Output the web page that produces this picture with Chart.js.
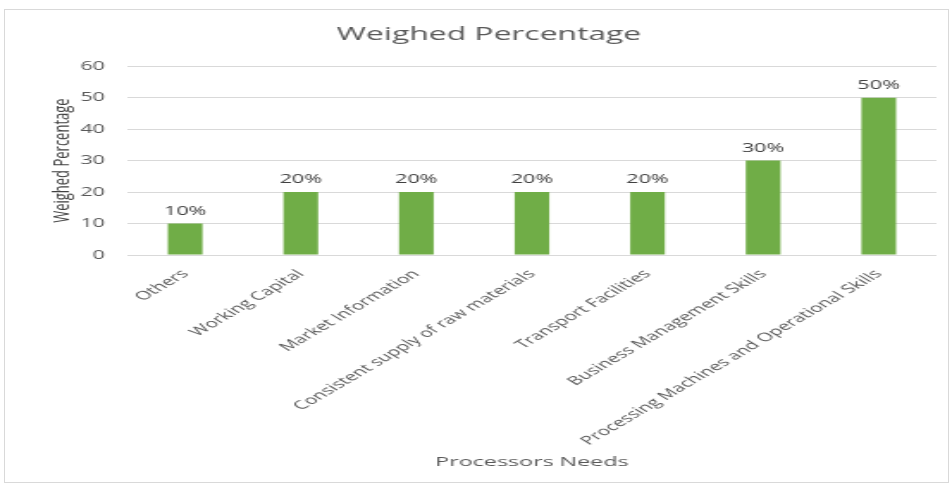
<!DOCTYPE html>
<html>
<head>
<meta charset="utf-8">
<script src="https://cdn.jsdelivr.net/npm/chart.js@4/dist/chart.umd.min.js"></script>
<style>
  html, body { margin: 0; padding: 0; background: #ffffff; overflow: hidden; }
  #page { position: relative; width: 952px; height: 484px; }
  #stretch { position: absolute; left: 0; top: 0; width: 553px; height: 484px; transform: scaleX(1.7215); transform-origin: 0 0; }
  #frame { position: absolute; left: 4px; top: 9px; width: 943px; height: 472px; border: 1px solid #d9d9d9; pointer-events: none; }
</style>
</head>
<body>
<div id="page">
  <div id="stretch"><canvas id="c" width="553" height="484"></canvas></div>
  <div id="frame"></div>
</div>
<script>
const categories = [
  "Others",
  "Working Capital",
  "Market Information",
  "Consistent supply of raw materials",
  "Transport Facilities",
  "Business Management Skills",
  "Processing Machines and Operational Skills"
];
const weighedPercentage = [10, 20, 20, 20, 20, 30, 50];
const dataLabels = ["10%", "20%", "20%", "20%", "20%", "30%", "50%"];
const yTicks = [0, 10, 20, 30, 40, 50, 60];

const textGray = "#595959";
const font = "'Open Sans', 'DejaVu Sans', sans-serif";

const valueLabelPlugin = {
  id: "valueLabels",
  afterDatasetsDraw(chart) {
    const ctx = chart.ctx;
    const meta = chart.getDatasetMeta(0);
    ctx.save();
    ctx.font = "12.5px " + font;
    ctx.fillStyle = "#404040";
    ctx.textAlign = "center";
    ctx.textBaseline = "bottom";
    meta.data.forEach((bar, i) => {
      ctx.fillText(dataLabels[i], bar.x, bar.y - 6);
    });
    ctx.restore();
  }
};

new Chart(document.getElementById("c"), {
  type: "bar",
  data: {
    labels: categories,
    datasets: [{
      label: "Weighed Percentage",
      data: weighedPercentage,
      backgroundColor: "#70AD47",
      borderWidth: 0,
      categoryPercentage: 1.0,
      barPercentage: 0.30
    }]
  },
  options: {
    responsive: false,
    animation: false,
    devicePixelRatio: 1,
    layout: { padding: { left: 24, right: 9, top: 0, bottom: 10 } },
    plugins: {
      legend: { display: false },
      tooltip: { enabled: false },
      title: {
        display: true,
        text: "Weighed Percentage",
        color: textGray,
        font: { family: font, size: 18.5, weight: "normal" },
        padding: { top: 24, bottom: 20 }
      }
    },
    scales: {
      x: {
        grid: { display: false, drawTicks: false },
        border: { display: false },
        ticks: {
          color: textGray,
          font: { family: font, size: 12 },
          autoSkip: false,
          minRotation: 45,
          maxRotation: 45,
          padding: 12
        },
        title: {
          display: true,
          text: "Processors Needs",
          color: textGray,
          font: { family: font, size: 13.5 },
          padding: { top: 4, bottom: 4 }
        },
        afterFit(scale) { scale.height = 219; }
      },
      y: {
        min: 0,
        max: 60,
        afterBuildTicks(scale) { scale.ticks = yTicks.map(v => ({ value: v })); },
        grid: { color: "#d9d9d9", lineWidth: 1, drawTicks: false },
        border: { display: false },
        ticks: {
          color: textGray,
          font: { family: font, size: 12.5 },
          padding: 13
        },
        title: {
          display: true,
          text: "Weighed Percentage",
          color: "#404040",
          font: { family: font, size: 13 },
          padding: { top: 4, bottom: 4 }
        },
        afterFit(scale) { scale.width = 50; }
      }
    }
  },
  plugins: [valueLabelPlugin]
});
</script>
</body>
</html>
